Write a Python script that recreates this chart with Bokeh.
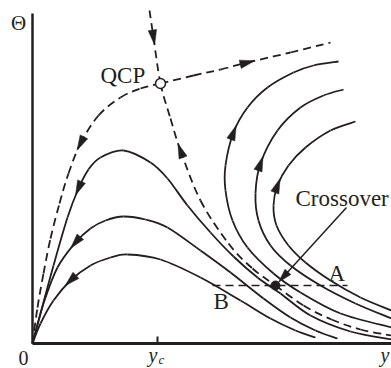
import numpy as np
from bokeh.plotting import figure
from bokeh.models import Range1d
from bokeh.embed import file_html
from bokeh.resources import INLINE
from bokeh.core.properties import value

INK = "#231f20"
SERIF = "Liberation Serif"

# ---------------- schematic data (horizontal: y, vertical: Theta) ----------------
y_axis_end = 359
th_axis_end = 330
y_c = 125

# separatrix through the QCP, coming down from the top
sep1_y  = [117, 121, 128, 138, 148, 168, 196, 220, 243, 271, 299, 328, 359]
sep1_th = [333, 306, 260, 225, 193, 143, 100, 75, 58, 38, 24, 14, 8]
# separatrix from the origin through the QCP, out to the right
sep2_y  = [0, 5, 11, 18, 27, 36, 48, 66, 88, 108, 128, 161, 188, 215, 258, 298]
sep2_th = [0, 36, 70, 105, 140, 170, 200, 228, 246, 255, 260, 268, 274, 281, 291, 301]
# flows into the origin
left1_y  = [0, 8, 21, 35, 46, 56, 68, 91, 118, 135, 155, 178, 201, 225, 248, 278, 318, 359]
left1_th = [0, 30, 78, 126, 155, 174, 186, 193, 181, 165, 138, 111, 87, 66, 50, 28, 12, 4]
left2_y  = [0, 11, 25, 43, 58, 73, 91, 113, 135, 168, 198, 231, 258, 283, 305]
left2_th = [0, 40, 76, 101, 115, 123, 127, 124, 116, 93, 71, 45, 26, 13, 5]
left3_y  = [0, 8, 21, 38, 58, 78, 95, 128, 168, 208, 238, 263, 283]
left3_th = [0, 20, 43, 63, 78, 86, 89, 84, 66, 43, 25, 13, 6]
# flows turning upward
right1_y  = [359, 308, 268, 241, 215, 200, 193, 193, 201, 215, 235, 261, 281, 306]
right1_th = [16, 30, 51, 70, 96, 123, 153, 178, 211, 236, 256, 271, 278, 282]
right2_y  = [359, 323, 288, 258, 238, 226, 223, 228, 245, 268, 291, 311]
right2_th = [25, 40, 58, 78, 98, 123, 150, 180, 213, 236, 248, 254]
right3_y  = [359, 328, 298, 273, 256, 244, 241, 245, 256, 273, 298, 323]
right3_th = [33, 46, 63, 81, 98, 118, 138, 158, 178, 196, 213, 222]

qcp_index = 2            # position of QCP on sep1
crossover_index = 8      # position of crossover on sep1
line_AB_y = [180, 315]

# arrows: (curve, anchor index, direction along anchors)
arrow_specs = [
    ("sep1", 1, +1), ("sep1", 4, -1),
    ("sep2", 6, -1), ("sep2", 13, +1),
    ("left1", 4, -1), ("left2", 3, -1), ("left3", 3, -1),
    ("right1", 8, +1), ("right2", 7, +1), ("right3", 7, +1),
]
crossover_label_anchor = [314, 136]

curves = {
    "sep1": (sep1_y, sep1_th, True),
    "sep2": (sep2_y, sep2_th, True),
    "left1": (left1_y, left1_th, False),
    "left2": (left2_y, left2_th, False),
    "left3": (left3_y, left3_th, False),
    "right1": (right1_y, right1_th, False),
    "right2": (right2_y, right2_th, False),
    "right3": (right3_y, right3_th, False),
}


def bezier_segments(xs, ys):
    P = np.column_stack([xs, ys]).astype(float)
    n = len(P)
    out = {k: [] for k in ("x0", "y0", "x1", "y1", "cx0", "cy0", "cx1", "cy1")}
    for i in range(n - 1):
        pm, p0, p1, p2 = P[max(i - 1, 0)], P[i], P[i + 1], P[min(i + 2, n - 1)]
        c0 = p0 + (p1 - pm) / 6.0
        c1 = p1 - (p2 - p0) / 6.0
        out["x0"].append(p0[0]); out["y0"].append(p0[1])
        out["x1"].append(p1[0]); out["y1"].append(p1[1])
        out["cx0"].append(c0[0]); out["cy0"].append(c0[1])
        out["cx1"].append(c1[0]); out["cy1"].append(c1[1])
    return out


def head(px, py, dx, dy, L=15.0, W=8.5, at_tip=False):
    d = np.array([dx, dy], float)
    d /= np.hypot(*d)
    nrm = np.array([-d[1], d[0]])
    P = np.array([px, py], float)
    tip = P if at_tip else P + d * L * 0.5
    base = tip - d * L
    a = base + nrm * W / 2
    b = base - nrm * W / 2
    return [tip[0], a[0], b[0]], [tip[1], a[1], b[1]]


p = figure(width=391, height=368, x_range=Range1d(-32, 359), y_range=Range1d(-25, 343),
           output_backend="svg", toolbar_location=None, min_border=0,
           x_axis_location=None, y_axis_location=None)
p.outline_line_color = None
p.xgrid.visible = False
p.ygrid.visible = False
p.background_fill_color = "white"
p.border_fill_color = "white"

# axes
p.line([0, 0], [0, th_axis_end], line_color=INK, line_width=2.5)
p.line([0, y_axis_end], [0, 0], line_color=INK, line_width=2.8)
p.line([y_c, y_c], [0, 7], line_color=INK, line_width=2)

# flow curves
for name, (xs, ys, dashed) in curves.items():
    seg = bezier_segments(xs, ys)
    kw = dict(line_color=INK, line_width=1.8)
    if dashed:
        kw["line_dash"] = "8 5"
    p.bezier(**seg, **kw)

# A–B line
p.line(line_AB_y, [sep1_th[crossover_index]] * 2, line_color=INK, line_width=1.6, line_dash="8 5")

# arrowheads on curves
hx, hy = [], []
for name, k, sgn in arrow_specs:
    xs, ys, _ = curves[name]
    tx = (xs[k + 1] - xs[k - 1]) * sgn
    ty = (ys[k + 1] - ys[k - 1]) * sgn
    a, b = head(xs[k], ys[k], tx, ty)
    hx.append(a); hy.append(b)

# crossover pointer
cx, cy = sep1_y[crossover_index], sep1_th[crossover_index]
sx, sy = crossover_label_anchor
d = np.array([cx - sx, cy - sy], float)
d /= np.hypot(*d)
tip = np.array([cx, cy]) - d * 4.5
p.line([sx, tip[0] - d[0] * 10], [sy, tip[1] - d[1] * 10], line_color=INK, line_width=1.5)
a, b = head(tip[0], tip[1], d[0], d[1], L=14, W=8, at_tip=True)
hx.append(a); hy.append(b)
p.patches(hx, hy, fill_color=INK, line_color=INK, line_width=0.5)

# special points
p.scatter([cx], [cy], size=9, marker="circle", fill_color=INK, line_color=INK)
p.scatter([sep1_y[qcp_index]], [sep1_th[qcp_index]], size=10, marker="circle",
          fill_color="white", line_color=INK, line_width=1.5)

# labels
p.text(x=[68, 263, 296, 181], y=[268, 145, 70, 42], text=["QCP", "Crossover", "A", "B"],
       text_font=value(SERIF), text_font_size="23px", text_color=INK,
       text_align="left", text_baseline="alphabetic")
p.text(x=[-14], y=[321], text=["Θ"], text_font=value(SERIF), text_font_size="21px",
       text_color=INK, text_align="center", text_baseline="alphabetic")
p.text(x=[-9], y=[-14], text=["0"], text_font=value(SERIF), text_font_size="20px",
       text_color=INK, text_align="center", text_baseline="alphabetic")
p.text(x=[116, 348], y=[-11, -11], text=["y", "y"], text_font=value(SERIF),
       text_font_size="20px", text_font_style="italic", text_color=INK,
       text_align="left", text_baseline="alphabetic")
p.text(x=[126], y=[-16], text=["c"], text_font=value(SERIF), text_font_size="13px",
       text_font_style="italic", text_color=INK, text_align="left", text_baseline="alphabetic")

open("out.html", "w").write(file_html(p, INLINE))
